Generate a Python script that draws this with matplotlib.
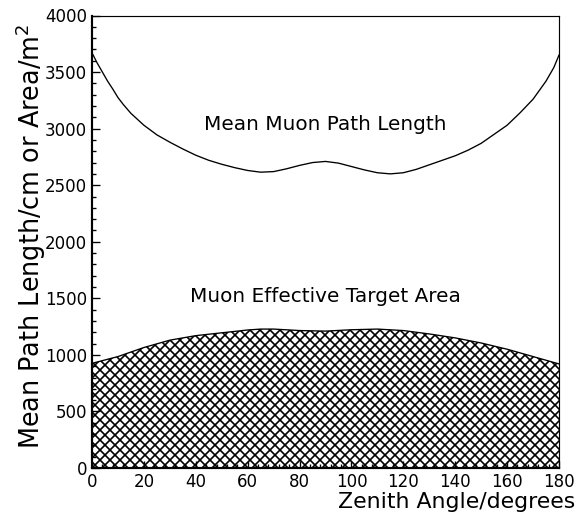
import matplotlib
matplotlib.use("Agg")
import matplotlib.pyplot as plt
from matplotlib.ticker import MultipleLocator

# Mean muon path length (cm) vs zenith angle (degrees)
path_angle = [0, 2, 4, 6, 8, 10, 12, 15, 20, 25, 30, 35, 40, 45, 50, 55, 60, 65,
              70, 75, 80, 85, 90, 95, 100, 105, 110, 115, 120, 125, 130, 135, 140,
              145, 150, 155, 160, 165, 170, 175, 178, 180]
path_len = [3670, 3580, 3500, 3420, 3350, 3275, 3215, 3135, 3030, 2945, 2880, 2820,
            2765, 2720, 2685, 2655, 2630, 2615, 2620, 2645, 2675, 2700, 2710, 2695,
            2665, 2635, 2610, 2600, 2610, 2640, 2680, 2720, 2760, 2810, 2870, 2950,
            3030, 3140, 3260, 3420, 3540, 3650]

# Muon effective target area (m^2) vs zenith angle (degrees)
area_angle = [0, 10, 20, 30, 40, 50, 60, 65, 70, 80, 90, 100, 110, 120, 130, 140,
              150, 160, 170, 180]
area_val = [925, 985, 1065, 1130, 1170, 1195, 1220, 1228, 1228, 1215, 1210, 1222,
            1228, 1215, 1185, 1150, 1105, 1050, 985, 920]

labels = {"path": "Mean Muon Path Length", "area": "Muon Effective Target Area"}

DPI = 120
plt.rcParams["hatch.linewidth"] = 1.0
plt.rcParams["font.family"] = ["DejaVu Sans"]

fig = plt.figure(figsize=(584 / DPI, 517 / DPI), dpi=DPI)
ax = fig.add_axes([92 / 584, 1 - 468 / 517, (559 - 92) / 584, (468 - 15.5) / 517])

ax.fill_between(area_angle, 0, area_val, facecolor="white", edgecolor="black",
                hatch="xxxx", linewidth=0)
ax.plot(area_angle, area_val, color="black", lw=0.8)
ax.plot(path_angle, path_len, color="black", lw=0.8)

ax.text(90, 3040, labels["path"], ha="center", va="center", fontsize=12)
ax.text(90, 1520, labels["area"], ha="center", va="center", fontsize=12)

ax.set_xlim(0, 180)
ax.set_ylim(0, 4000)
ax.xaxis.set_major_locator(MultipleLocator(20))
ax.xaxis.set_minor_locator(MultipleLocator(4))
ax.yaxis.set_major_locator(MultipleLocator(500))
ax.yaxis.set_minor_locator(MultipleLocator(100))
ax.tick_params(which="both", direction="in", top=False, right=False,
               labelsize=10, width=0.8, pad=3)
ax.tick_params(which="major", length=4.5)
ax.tick_params(which="minor", length=2.5)

for side in ["left", "bottom"]:
    ax.spines[side].set_linewidth(1.3)
for side in ["top", "right"]:
    ax.spines[side].set_linewidth(0.7)

fig.text(575 / 584, 1 - 508 / 517, "Zenith Angle/degrees", ha="right",
         va="baseline", fontsize=13.2)
fig.text(31 / 584, 1 - 236 / 517, "Mean Path Length/cm or Area/m$^2$",
         rotation=90, ha="center", va="center", fontsize=15.3)

fig.savefig("out.png", dpi=DPI)
